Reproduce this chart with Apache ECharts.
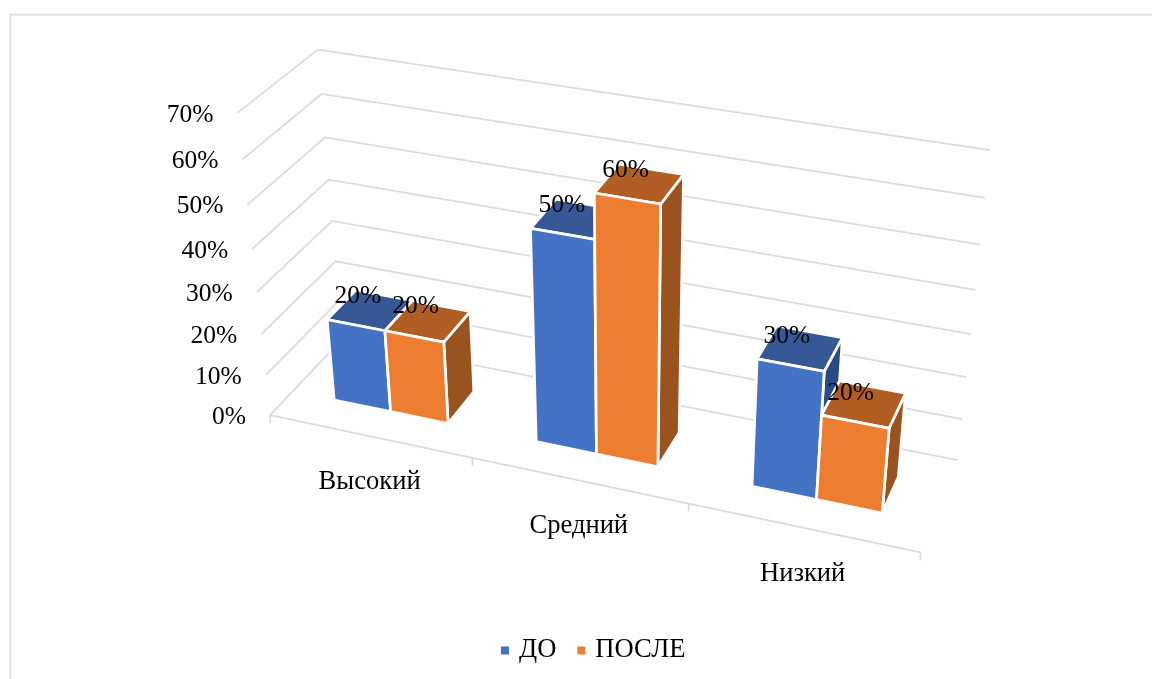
<!DOCTYPE html>
<html><head><meta charset="utf-8">
<style>html,body{margin:0;padding:0;background:#fff}#c{width:1152px;height:679px}</style>
<script src="https://cdn.jsdelivr.net/npm/echarts@6/dist/echarts.min.js"></script>
</head><body><div id="c"></div>
<script>
const categories = ['Высокий', 'Средний', 'Низкий'];
const before = [20, 50, 30];
const after = [20, 60, 20];
const tickValues = [0, 10, 20, 30, 40, 50, 60, 70];
const seriesNames = ['ДО', 'ПОСЛЕ'];

const FONT_NUM = '25.5px "Liberation Serif", serif';
const FONT_CAT = '26.6px "Liberation Serif", serif';
const COLORS = [
  {front: '#4472C4', top: '#375896', side: '#2A4A86'},
  {front: '#ED7D31', top: '#B15E24', side: '#9A531F'}
];
const V_MAX = 70;

// Perspective camera: fitted from where the box's edges sit on the page. [u, v, w, px, py]
const CAMERA_ANCHORS = [
  [0,70,1,318,49],[0,60,1,322,94],[0,50,1,325,137],[0,40,1,329,180],[0,30,1,332,221],
  [0,70,0,237,113],[0,60,0,243,160],[0,50,0,247,205],[0,40,0,252,249],[0,30,0,257,292],
  [0,20,0,261,334],[0,10,0,266,375],[0,0,0,270,415],
  [3,70,1,990,150],[3,60,1,985,198],[3,30,1,971,334],[3,20,1,966,377],[3,10,1,962,419],[3,0,1,958,461],
  [3,0,0,921,552]
];
function solveCamera(anchors) {
  const n = 11, A = [], b = [];
  const S = 1000;
  anchors.forEach(([u, vv, w, px, py]) => {
    const v = vv / V_MAX, x = px / S, y = py / S;
    A.push([u, v, w, 1, 0, 0, 0, 0, -x * u, -x * v, -x * w]); b.push(x);
    A.push([0, 0, 0, 0, u, v, w, 1, -y * u, -y * v, -y * w]); b.push(y);
  });
  const M = [];
  for (let i = 0; i < n; i++) {
    M.push([]);
    for (let j = 0; j <= n; j++) {
      let s = 0;
      for (let r = 0; r < A.length; r++) s += A[r][i] * (j < n ? A[r][j] : b[r]);
      M[i].push(s);
    }
  }
  for (let i = 0; i < n; i++) {
    let p = i;
    for (let r = i + 1; r < n; r++) if (Math.abs(M[r][i]) > Math.abs(M[p][i])) p = r;
    [M[i], M[p]] = [M[p], M[i]];
    for (let r = 0; r < n; r++) {
      if (r === i) continue;
      const f = M[r][i] / M[i][i];
      for (let j = i; j <= n; j++) M[r][j] -= f * M[i][j];
    }
  }
  const c = M.map((row, i) => row[n] / row[i]);
  return (u, vv, w) => {
    const v = vv / V_MAX;
    const d = c[8] * u + c[9] * v + c[10] * w + 1;
    return [S * (c[0] * u + c[1] * v + c[2] * w + c[3]) / d, S * (c[4] * u + c[5] * v + c[6] * w + c[7]) / d];
  };
}
const project = solveCamera(CAMERA_ANCHORS);

// Read a category / value through the hidden cartesian axes, back to box coordinates.
function toBox(api, params, catValue, value) {
  const pt = api.coord([catValue, value]);
  const r = params.coordSys;
  return {u: (pt[0] - r.x) / r.width * categories.length, v: (r.y + r.height - pt[1]) / r.height * V_MAX};
}
const BAR_HALF = 0.286, W0 = 0.3, W1 = 0.7;

function bar(seriesIdx) {
  return function (params, api) {
    const b = toBox(api, params, api.value(0), api.value(1));
    const mid = b.u;
    const u0 = seriesIdx === 0 ? mid - BAR_HALF : mid;
    const u1 = seriesIdx === 0 ? mid : mid + BAR_HALF;
    const v = b.v, c = COLORS[seriesIdx];
    const poly = (pts, fill) => ({
      type: 'polygon',
      shape: {points: pts.map(p => project(p[0], p[1], p[2]))},
      style: {fill, stroke: '#fff', lineWidth: 2.75, lineJoin: 'round'}
    });
    return {type: 'group', children: [
      poly([[u1, 0, W0], [u1, 0, W1], [u1, v, W1], [u1, v, W0]], c.side),
      poly([[u0, v, W0], [u1, v, W0], [u1, v, W1], [u0, v, W1]], c.top),
      poly([[u0, 0, W0], [u1, 0, W0], [u1, v, W0], [u0, v, W0]], c.front)
    ]};
  };
}
function valueLabel(params, api) {
  const b = toBox(api, params, api.value(0), api.value(1));
  const s = api.value(2);
  const u0 = s === 0 ? b.u - BAR_HALF : b.u;
  const p = project(u0, b.v, W1);
  return {type: 'text', style: {
    text: api.value(1) + '%', x: p[0] + 1 + 4 * u0, y: p[1] + 6 + Math.max(0, u0 - 1.5) * 6,
    font: FONT_NUM, fill: '#000', align: 'center', verticalAlign: 'middle'}};
}
function gridAndTicks(params, api) {
  const v = toBox(api, params, 0, api.value(0)).v;
  const a = project(0, v, 0), b = project(0, v, 1), c = project(3, v, 1);
  return {type: 'group', children: [
    {type: 'polyline', shape: {points: [a, b, c]}, style: {fill: 'none', stroke: '#DCDCDC', lineWidth: 1.75}},
    {type: 'text', style: {text: api.value(0) + '%', x: a[0] - 24, y: a[1] + 2,
      font: FONT_NUM, fill: '#000', align: 'right', verticalAlign: 'middle'}}
  ]};
}
function categoryAxis(params, api) {
  const b = toBox(api, params, api.value(0), 0);
  const i = params.dataIndex;
  const L = project(i, 0, 0), R = project(i + 1, 0, 0), lab = project(b.u, 0, 0);
  const stroke = {fill: 'none', stroke: '#DCDCDC', lineWidth: 1.75};
  const kids = [
    {type: 'polyline', shape: {points: [L, R]}, style: stroke},
    {type: 'polyline', shape: {points: [R, [R[0], R[1] + 8]]}, style: stroke},
    {type: 'text', style: {text: categories[i], x: lab[0], y: lab[1] + 46,
      font: FONT_CAT, fill: '#000', align: 'center', verticalAlign: 'middle'}}
  ];
  if (i === 0) kids.push({type: 'polyline', shape: {points: [L, [L[0], L[1] + 8]]}, style: stroke});
  return {type: 'group', children: kids};
}

const chart = echarts.init(document.getElementById('c'), null, {renderer: 'canvas'});
chart.setOption({
  animation: false,
  backgroundColor: '#fff',
  grid: {left: 0, right: 0, top: 0, bottom: 0},
  xAxis: {type: 'category', data: categories, show: false},
  yAxis: {type: 'value', min: 0, max: V_MAX, interval: 10, show: false},
  legend: {
    data: seriesNames, left: 496, top: 632, itemWidth: 8, itemHeight: 8, itemGap: 21,
    icon: 'rect', selectedMode: false,
    textStyle: {fontFamily: '"Liberation Serif", serif', fontSize: 26.6, color: '#000', padding: [0, 0, 0, 5]}
  },
  graphic: [{type: 'polyline', silent: true, shape: {points: [[10.5, 679], [10.5, 14.5], [1152, 14.5]]},
    style: {fill: 'none', stroke: '#DCDCDC', lineWidth: 1.75}}],
  series: [
    {type: 'custom', name: 'grid', coordinateSystem: 'cartesian2d', z: 1, clip: false, silent: true,
      data: tickValues.map(t => [t]), encode: {y: 0}, renderItem: gridAndTicks},
    {type: 'custom', name: 'axis', coordinateSystem: 'cartesian2d', z: 1, clip: false, silent: true,
      data: categories.map(c => [c]), encode: {x: 0}, renderItem: categoryAxis},
    {type: 'custom', name: seriesNames[0], coordinateSystem: 'cartesian2d', z: 2, clip: false, silent: true,
      itemStyle: {color: COLORS[0].front},
      data: categories.map((c, i) => [c, before[i]]), encode: {x: 0, y: 1}, renderItem: bar(0)},
    {type: 'custom', name: seriesNames[1], coordinateSystem: 'cartesian2d', z: 3, clip: false, silent: true,
      itemStyle: {color: COLORS[1].front},
      data: categories.map((c, i) => [c, after[i]]), encode: {x: 0, y: 1}, renderItem: bar(1)},
    {type: 'custom', name: 'labels', coordinateSystem: 'cartesian2d', z: 4, clip: false, silent: true,
      data: categories.flatMap((c, i) => [[c, before[i], 0], [c, after[i], 1]]),
      encode: {x: 0, y: 1}, renderItem: valueLabel}
  ]
});
</script></body></html>
